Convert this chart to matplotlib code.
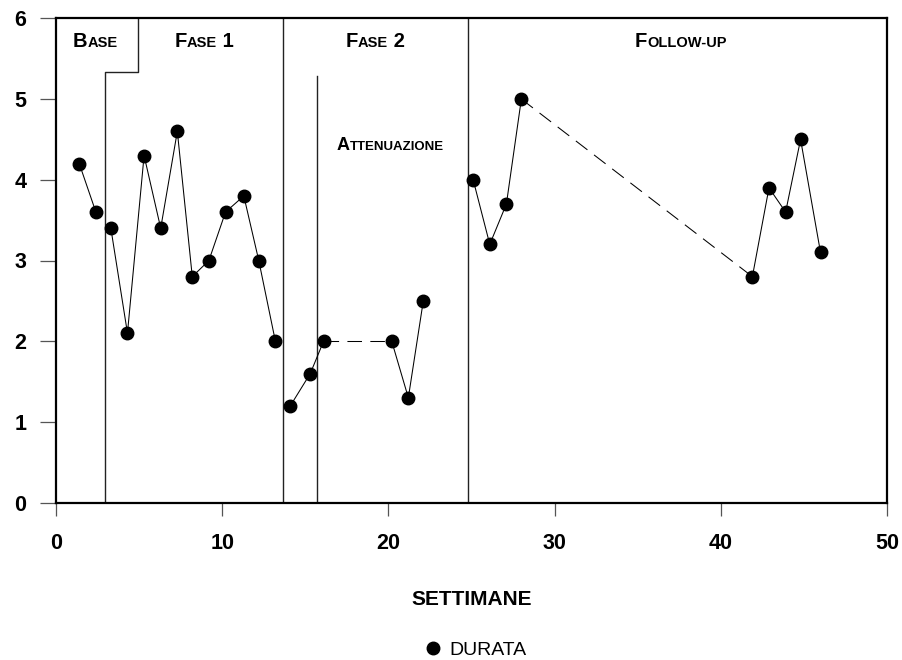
import matplotlib
matplotlib.use("Agg")
import matplotlib.pyplot as plt
from matplotlib.lines import Line2D
from matplotlib.offsetbox import TextArea, HPacker, AnnotationBbox

# ---- data ----
weeks = [1.4, 2.4, 3.3, 4.3, 5.3, 6.3, 7.3, 8.2, 9.2, 10.2, 11.3, 12.2, 13.2,
         14.1, 15.3, 16.1, 20.2, 21.2, 22.1,
         25.1, 26.1, 27.1, 28.0, 41.9, 42.9, 43.9, 44.8, 46.0]
durata = [4.2, 3.6, 3.4, 2.1, 4.3, 3.4, 4.6, 2.8, 3.0, 3.6, 3.8, 3.0, 2.0,
          1.2, 1.6, 2.0, 2.0, 1.3, 2.5,
          4.0, 3.2, 3.7, 5.0, 2.8, 3.9, 3.6, 4.5, 3.1]
# connected runs (start index, end index inclusive, style)
segments = [(0, 1, 'solid'), (2, 12, 'solid'), (13, 15, 'solid'), (15, 16, 'dashed'),
            (16, 18, 'solid'), (19, 22, 'solid'), (22, 23, 'dashed'), (23, 27, 'solid')]
# phase boundaries
base_end_low, base_end_high, step_level = 2.95, 4.93, 5.33
fase2_start = 13.66
atten_start, atten_top = 15.70, 5.29
follow_start = 24.79
# phase labels: (big letter, small caps, trailing big, x, y, big size, small size)
phase_labels = [
    ("B", "ASE", "", 2.35, 5.71, 14.5, 10.5),
    ("F", "ASE", " 1", 8.9, 5.71, 14.5, 10.5),
    ("F", "ASE", " 2", 19.2, 5.71, 14.5, 10.5),
    ("A", "TTENUAZIONE", "", 20.1, 4.43, 13, 9.5),
    ("F", "OLLOW-UP", "", 37.6, 5.71, 14.5, 10.5),
]
xticks = [0, 10, 20, 30, 40, 50]
yticks = [0, 1, 2, 3, 4, 5, 6]
xlabel = "SETTIMANE"
series_name = "DURATA"

FONT = "Liberation Sans"

fig = plt.figure(figsize=(9.03, 6.60), dpi=100)
ax = fig.add_axes([56 / 903, 1 - 502.7 / 660, (887 - 56) / 903, (502.7 - 18.3) / 660])

# phase lines
lc = '#222222'
ax.plot([base_end_low, base_end_low, base_end_high, base_end_high],
        [0, step_level, step_level, 6], color=lc, lw=1.0, zorder=1)
ax.plot([fase2_start, fase2_start], [0, 6], color=lc, lw=1.0, zorder=1)
ax.plot([atten_start, atten_start], [0, atten_top], color=lc, lw=1.0, zorder=1)
ax.plot([follow_start, follow_start], [0, 6], color=lc, lw=1.0, zorder=1)

# data lines
for s, e, st in segments:
    ls = '-' if st == 'solid' else (0, (14, 8))
    ax.plot(weeks[s:e + 1], durata[s:e + 1], color='black', lw=0.75, ls=ls, zorder=2)
ax.plot(weeks, durata, ls='none', marker='o', ms=9, color='black', zorder=3)

ax.set_xlim(0, 50)
ax.set_ylim(0, 6)
ax.set_xticks(xticks)
ax.set_yticks(yticks)
for sp in ax.spines.values():
    sp.set_linewidth(1.6)
    sp.set_color('black')
ax.tick_params(axis='y', direction='out', length=11.5, width=0.9, color='#555555', pad=10)
ax.tick_params(axis='x', direction='out', length=9.5, width=0.9, color='#555555', pad=12)
for lab in ax.get_xticklabels() + ax.get_yticklabels():
    lab.set_fontfamily(FONT)
    lab.set_fontweight('bold')
    lab.set_fontsize(15.5)

# phase labels in small caps
for big, small, trail, x, y, bs, ss in phase_labels:
    tp_big = dict(family=FONT, weight='bold', size=bs, color='black')
    tp_small = dict(family=FONT, weight='bold', size=ss, color='black')
    parts = [TextArea(big, textprops=tp_big), TextArea(small, textprops=tp_small)]
    if trail:
        parts.append(TextArea(trail, textprops=tp_big))
    box = HPacker(children=parts, align='baseline', pad=0, sep=0)
    ab = AnnotationBbox(box, (x, y), xycoords='data', frameon=False,
                        box_alignment=(0.5, 0.5), pad=0)
    ax.add_artist(ab)

fig.text(472 / 903, 1 - 599.5 / 660, xlabel, ha='center', va='center',
         family=FONT, weight='bold', size=15)

handle = Line2D([], [], ls='none', marker='o', ms=9, color='black')
fig.legend(handles=[handle], labels=[series_name], loc='center',
           bbox_to_anchor=(474 / 903, 1 - 650 / 660), frameon=False,
           prop=dict(family=FONT, size=14), handletextpad=0.2, handlelength=1.2,
           borderpad=0)

fig.savefig("out.png", dpi=100)
